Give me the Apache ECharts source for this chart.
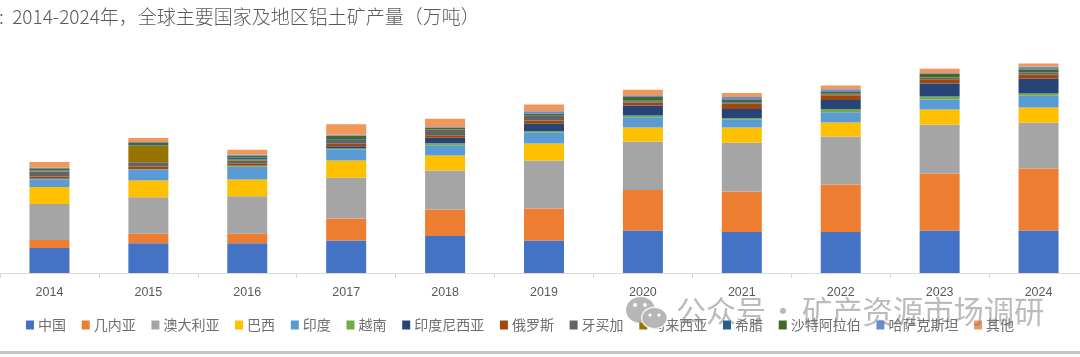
<!DOCTYPE html>
<html><head><meta charset="utf-8">
<style>html,body{margin:0;padding:0;background:#fff}#c{width:1080px;height:357px}</style>
<script src="https://cdn.jsdelivr.net/npm/echarts@6/dist/echarts.min.js"></script>
</head><body><div id="c"></div>
<script>
const years=['2014','2015','2016','2017','2018','2019','2020','2021','2022','2023','2024'];
const china=[5250,6260,6260,6830,7770,6830,8930,8610,8610,8930,8930];
const guinea=[1680,1970,1970,4620,5570,6720,8500,8500,9980,11970,13020];
const australia=[7560,7690,7900,8550,8190,10080,10190,10230,10080,10230,9600];
const brazil=[3570,3510,3510,3630,3150,3570,2940,3210,2940,3210,3210];
const india=[1620,2310,2670,2370,2160,2250,2160,1740,2160,2100,2460];
const vietnam=[60,60,210,150,420,340,360,290,630,630,480];
const indonesia=[100,20,20,480,1130,1550,2100,1890,1970,2730,3090];
const russia=[420,550,420,500,550,690,570,1110,990,900,900];
const jamaica=[1050,920,630,800,1150,1100,340,270,210,290,360];
const malaysia=[210,3510,270,50,20,20,30,30,30,30,30];
const greece=[100,110,420,150,60,60,60,60,60,60,60];
const saudi=[210,400,420,690,360,300,780,420,370,800,640];
const kazakhstan=[320,210,210,210,150,480,360,630,550,150,570];
const other=[1150,840,990,2200,1700,1400,1200,800,800,900,650];
const names=['中国','几内亚','澳大利亚','巴西','印度','越南','印度尼西亚','俄罗斯','牙买加','马来西亚','希腊','沙特阿拉伯','哈萨克斯坦','其他'];
const seriesData=[china,guinea,australia,brazil,india,vietnam,indonesia,russia,jamaica,malaysia,greece,saudi,kazakhstan,other];
const colors=['#4472C4','#ED7D31','#A5A5A5','#FFC000','#5B9BD5','#70AD47','#264478','#9E480E','#636363','#997300','#255E91','#43682B','#698ED0','#F1975A'];
const titleText=':  2014-2024年，全球主要国家及地区铝土矿产量（万吨）';
const watermarkHead='公众号';
const watermarkDot='·';
const watermarkTail='矿产资源市场调研';
const cjk='"Noto Sans CJK SC","Noto Sans",sans-serif';
const chart=echarts.init(document.getElementById('c'),null,{renderer:'canvas'});
const wmFill='rgba(125,125,125,0.52)';
chart.setOption({
  animation:false,
  backgroundColor:'#fff',
  color:colors,
  title:{text:titleText,left:-1,top:7,padding:0,textStyle:{fontFamily:cjk,fontSize:19,fontWeight:300,color:'#5a5a5a'}},
  grid:{left:0,top:35,width:1088,height:238,containLabel:false,outerBoundsMode:'none'},
  legend:{left:26,top:318,padding:0,icon:'rect',itemWidth:8,itemHeight:9,itemGap:15.7,
    textStyle:{fontFamily:cjk,fontSize:14,color:'#6f6f6f',padding:[0,0,0,-1]},data:names},
  xAxis:{type:'category',data:years,
    axisLine:{lineStyle:{color:'#d9d9d9',width:1}},
    axisTick:{show:true,length:5,alignWithLabel:false,lineStyle:{color:'#d9d9d9'}},
    axisLabel:{margin:13,fontFamily:'"Liberation Sans",sans-serif',fontSize:12.5,color:'#595959'}},
  yAxis:{type:'value',min:0,max:50000,show:false,splitLine:{show:false}},
  series:names.map((n,i)=>({name:n,type:'bar',stack:'total',barWidth:40,data:seriesData[i],itemStyle:{color:colors[i]}})),
  graphic:[
    {type:'rect',z:50,silent:true,shape:{x:0,y:351,width:1080,height:3},style:{fill:'#c4c4c4'}},
    {type:'ellipse',z:60,silent:true,shape:{cx:640.5,cy:310,rx:14.5,ry:13},style:{fill:'rgba(175,175,175,0.9)'}},
    {type:'ellipse',z:61,silent:true,shape:{cx:654.5,cy:318,rx:13.5,ry:11.5},style:{fill:'rgba(255,255,255,0.85)'}},
    {type:'ellipse',z:62,silent:true,shape:{cx:654.5,cy:318,rx:12.2,ry:10},style:{fill:'rgba(175,175,175,0.9)'}},
    {type:'circle',z:63,silent:true,shape:{cx:635,cy:305,r:2},style:{fill:'#fff'}},
    {type:'circle',z:63,silent:true,shape:{cx:645,cy:305,r:2},style:{fill:'#fff'}},
    {type:'circle',z:63,silent:true,shape:{cx:650,cy:315,r:1.6},style:{fill:'#fff'}},
    {type:'circle',z:63,silent:true,shape:{cx:659,cy:315,r:1.6},style:{fill:'#fff'}},
    {type:'text',z:60,silent:true,left:676,top:296,style:{text:watermarkHead,font:'30px '+cjk,fill:wmFill}},
    {type:'text',z:60,silent:true,left:768,top:296,style:{text:watermarkDot,font:'30px '+cjk,fill:wmFill}},
    {type:'text',z:60,silent:true,left:802,top:296,style:{text:watermarkTail,font:'30.3px '+cjk,fill:wmFill}}
  ]
});
</script></body></html>
